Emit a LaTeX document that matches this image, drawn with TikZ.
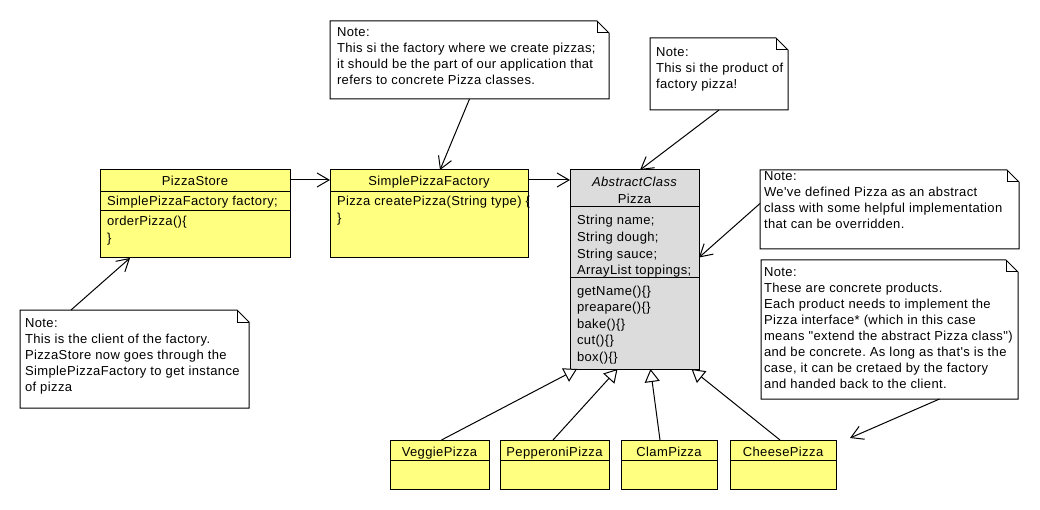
\documentclass[tikz,border=0pt]{standalone}
\usepackage{fontspec}
\setmainfont{Liberation Sans}[LetterSpace=3, Ligatures=TeXOff]
\usetikzlibrary{arrows.meta,calc}
\definecolor{clsyellow}{RGB}{255,255,128}
\definecolor{absgray}{RGB}{220,220,220}
\newcommand\notefont{\fontsize{13}{16}\selectfont\frenchspacing}
\newcommand\clsfont{\fontsize{13}{16.6}\selectfont\frenchspacing}
\newcommand\fs{\rule{0pt}{12pt}}
\newcommand\notebox[1]{%
  \draw[fill=white] (#1.north west) -- ([xshift=-12]#1.north east) -- ([yshift=-12]#1.north east)
    -- (#1.south east) -- (#1.south west) -- cycle;
  \draw ([xshift=-12]#1.north east) -- ([xshift=-12,yshift=-12]#1.north east) -- ([yshift=-12]#1.north east);}
\newcommand\sepline[2]{\draw ([yshift=-#2]#1.north west) -- ([yshift=-#2]#1.north east);}
\begin{document}
\begin{tikzpicture}[x=1pt,y=-1pt,line width=1pt,
  box/.style={draw=black,anchor=north west,inner sep=0,outer sep=0},
  cls/.style={box,fill=clsyellow},
  abscls/.style={box,fill=absgray},
  frame/.style={box,draw=none},
  txt/.style={anchor=north west,inner sep=0,outer sep=0,align=left,font=\clsfont},
  ntxt/.style={txt,font=\notefont},
  head/.style={anchor=base,inner sep=0,outer sep=0,font=\clsfont},
  dep/.style={-{Straight Barb[length=12pt,width=14pt]}},
  inh/.style={-{Triangle[length=13pt,width=15pt,fill=white]}}]
\fill[white] (0,0) rectangle (1040,510);
\useasboundingbox (0,0) rectangle (1040,510);

% PizzaStore
\node[cls,minimum width=190,minimum height=88] (ps) at (100,170) {};
\sepline{ps}{22}\sepline{ps}{41}
\node[head] (psh) at (195,186) {PizzaStore};
\node[txt] (psa) at (107,194) {\fs SimplePizzaFactory factory;};
\node[txt] (psm) at (107,214) {\fs orderPizza()\{\\\}};

% SimplePizzaFactory
\node[cls,minimum width=198,minimum height=88] (spf) at (330,170) {};
\sepline{spf}{22}
\node[head] (spfh) at (429,186) {SimplePizzaFactory};
\node[txt] (spfm) at (337,194) {\fs Pizza createPizza(String type) \{\\\}};

% Pizza
\node[abscls,minimum width=129,minimum height=199] (pz) at (570,170) {};
\sepline{pz}{37}\sepline{pz}{108}
\node[head] (pzs) at (634.5,187) {\itshape AbstractClass};
\node[head] (pzh) at (634.5,204) {Pizza};
\node[txt] (pza) at (577,213) {\fs String name;\\String dough;\\String sauce;\\ArrayList toppings;};
\node[txt] (pzm) at (577,283) {\fs getName()\{\}\\preapare()\{\}\\bake()\{\}\\cut()\{\}\\box()\{\}};

% subclasses
\node[cls,minimum width=99,minimum height=49] (vp) at (390,440) {};
\sepline{vp}{20}
\node[head] (vph) at (439.5,456) {VeggiePizza};
\node[cls,minimum width=109,minimum height=49] (pp) at (500,440) {};
\sepline{pp}{20}
\node[head] (pph) at (554.5,456) {PepperoniPizza};
\node[cls,minimum width=96,minimum height=49] (cl) at (621,440) {};
\sepline{cl}{20}
\node[head] (clh) at (669,456) {ClamPizza};
\node[cls,minimum width=106,minimum height=49] (ch) at (730,440) {};
\sepline{ch}{20}
\node[head] (chh) at (783,456) {CheesePizza};

% notes
\node[frame,minimum width=279,minimum height=78] (n1) at (330,21) {};
\notebox{n1}
\node[ntxt] (n1t) at (337,25) {\fs Note:\\This si the factory where we create pizzas;\\it should be the part of our application that\\refers to concrete Pizza classes.};

\node[frame,minimum width=138,minimum height=72] (n2) at (650,38) {};
\notebox{n2}
\node[ntxt] (n2t) at (656,45) {\fs Note:\\This si the product of\\factory pizza!};

\node[frame,minimum width=259,minimum height=79] (n3) at (760,170) {};
\notebox{n3}
\node[ntxt] (n3t) at (764,169) {\fs Note:\\We've defined Pizza as an abstract\\class with some helpful implementation\\that can be overridden.};

\node[frame,minimum width=257,minimum height=139] (n4) at (761,260) {};
\notebox{n4}
\node[ntxt] (n4t) at (764,264) {\fs Note:\\These are concrete products.\\Each product needs to implement the\\Pizza interface* (which in this case\\means "extend the abstract Pizza class")\\and be concrete. As long as that's is the\\case, it can be cretaed by the factory\\and handed back to the client.};

\node[frame,minimum width=229,minimum height=98] (n5) at (20,310) {};
\notebox{n5}
\node[ntxt] (n5t) at (25,315) {\fs Note:\\This is the client of the factory.\\PizzaStore now goes through the\\SimplePizzaFactory to get instance\\of pizza};

% connectors
\draw[dep] ([yshift=-10]ps.north east) -- ([yshift=-10]spf.north west);
\draw[dep] ([yshift=-10]spf.north east) -- ([yshift=-10]pz.north west);
\draw[dep] (n1.south) -- ([xshift=11]spf.north);
\draw[dep] (n2.south) -- ([xshift=5.5]pz.north);
\draw[dep] ([yshift=6]n3.west) -- ([yshift=12]pz.east);
\draw[dep] ([xshift=50]n4.south) -- ([xshift=14,yshift=2]ch.north east);
\draw[dep] ([xshift=-63.5]n5.north) -- ([xshift=-65]ps.south);
\draw[inh] ([xshift=2]vp.north) -- ([xshift=-57.5]pz.south);
\draw[inh] ([xshift=-1.5]pp.north) -- ([xshift=-17]pz.south);
\draw[inh] ([xshift=-9]cl.north) -- ([xshift=16]pz.south);
\draw[inh] ([xshift=-3]ch.north) -- ([xshift=57]pz.south);
\end{tikzpicture}
\end{document}
